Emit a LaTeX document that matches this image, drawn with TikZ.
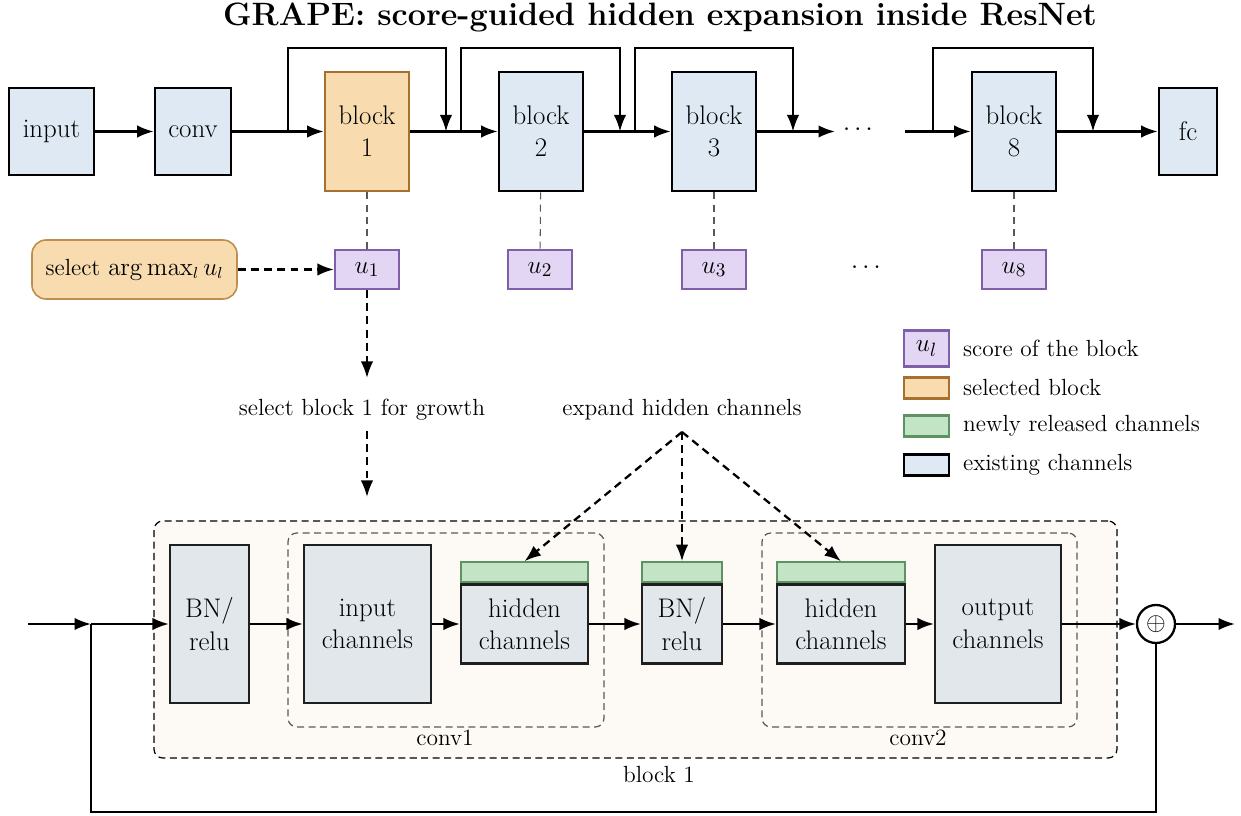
\documentclass[tikz,border=0pt]{standalone}
\usepackage{amsmath}
\usepackage{tikz}
\usetikzlibrary{arrows.meta,positioning}

\definecolor{topfill}{RGB}{222,233,244}
\definecolor{chanfill}{RGB}{226,231,236}
\definecolor{selfill}{RGB}{248,220,176}
\definecolor{seldraw}{RGB}{166,112,46}
\definecolor{pickdraw}{RGB}{190,142,80}
\definecolor{scorefill}{RGB}{226,214,244}
\definecolor{scoredraw}{RGB}{127,95,168}
\definecolor{newfill}{RGB}{195,228,197}
\definecolor{newdraw}{RGB}{94,146,98}
\definecolor{contfill}{RGB}{253,250,245}

\begin{document}
\begin{tikzpicture}[>={Latex[length=3.3mm,width=2.5mm]},
  topbox/.style={draw,fill=topfill,line width=1.5pt,align=center,inner sep=0pt,font=\fontsize{15.3}{18.4}\selectfont},
  selblock/.style={topbox,fill=selfill,draw=seldraw},
  scorebox/.style={draw=scoredraw,fill=scorefill,line width=1.3pt,inner sep=0pt,minimum width=1.28cm,minimum height=0.78cm,font=\fontsize{15.3}{18.4}\selectfont},
  chanbox/.style={draw=black!88,fill=chanfill,line width=1.3pt,align=center,inner sep=0pt,font=\fontsize{15.3}{18.4}\selectfont},
  newbar/.style={draw=newdraw,fill=newfill,line width=1.2pt,inner sep=0pt,minimum height=0.4cm},
  contbox/.style={draw,dashed,dash pattern=on 4pt off 2.5pt,rounded corners=5pt,line width=0.7pt},
  smalltxt/.style={font=\fontsize{13.3}{16}\selectfont,inner sep=1pt},
  flow/.style={->,line width=1.3pt},
  dflow/.style={->,line width=1.3pt,dash pattern=on 4.5pt off 3pt},
  tie/.style={gray!70!black,line width=0.6pt,dash pattern=on 4pt off 3pt}]
  \useasboundingbox (0,0) rectangle (24.82,-16.32);

  % title
  \node[font=\fontsize{18.4}{22}\selectfont\bfseries] (title) at (13.2,-0.34) {GRAPE: score-guided hidden expansion inside ResNet};

  % network
  \node[topbox,minimum width=1.7cm,minimum height=1.74cm] (inp) at (1.03,-2.63) {input};
  \node[topbox,minimum width=1.52cm,minimum height=1.74cm] (conv) at (3.86,-2.63) {conv};
  \node[selblock,minimum width=1.68cm,minimum height=2.38cm] (b1) at (7.34,-2.63) {block\\1};
  \node[topbox,minimum width=1.68cm,minimum height=2.38cm] (b2) at (10.82,-2.63) {block\\2};
  \node[topbox,minimum width=1.68cm,minimum height=2.38cm] (b3) at (14.28,-2.63) {block\\3};
  \node[font=\fontsize{15.3}{18.4}\selectfont] (dtop) at (17.2,-2.6) {$\cdots$};
  \node[topbox,minimum width=1.68cm,minimum height=2.38cm] (b8) at (20.28,-2.63) {block\\8};
  \node[topbox,minimum width=1.16cm,minimum height=1.74cm] (fc) at (23.76,-2.63) {fc};
  \coordinate (d1) at (16.7,-2.63);
  \coordinate (d2) at (18.1,-2.63);

  \draw[flow] (inp) -- (conv);
  \draw[flow] (conv) -- (b1);
  \draw[flow] (b1) -- (b2);
  \draw[flow] (b2) -- (b3);
  \draw[flow] (b3) -- (d1);
  \draw[flow] (d2) -- (b8);
  \draw[flow] (b8) -- (fc);

  % skip connections
  \coordinate (s1) at (5.76,-2.63);  \coordinate (m1) at (8.92,-2.63);
  \coordinate (s2) at (9.22,-2.63);  \coordinate (m2) at (12.4,-2.63);
  \coordinate (s3) at (12.7,-2.63);  \coordinate (m3) at (15.86,-2.63);
  \coordinate (s8) at (18.66,-2.63); \coordinate (m8) at (21.86,-2.63);
  \draw[flow] (s1) -- ++(0,1.67) -| (m1);
  \draw[flow] (s2) -- ++(0,1.67) -| (m2);
  \draw[flow] (s3) -- ++(0,1.67) -| (m3);
  \draw[flow] (s8) -- ++(0,1.67) -| (m8);

  % scores
  \node[scorebox] (u1) at (7.34,-5.39) {$u_1$};
  \node[scorebox] (u2) at (10.8,-5.39) {$u_2$};
  \node[scorebox] (u3) at (14.28,-5.39) {$u_3$};
  \node[font=\fontsize{15.3}{18.4}\selectfont] (dscore) at (17.36,-5.36) {$\cdots$};
  \node[scorebox] (u8) at (20.28,-5.39) {$u_8$};
  \draw[tie] (b1) -- (u1);
  \draw[tie] (b2) -- (u2);
  \draw[tie] (b3) -- (u3);
  \draw[tie] (b8) -- (u8);

  \node[draw=pickdraw,fill=selfill,rounded corners=8pt,line width=0.9pt,minimum width=4.1cm,minimum height=1.18cm,smalltxt] (pick) at (2.69,-5.39) {select $\arg\max_l u_l$};
  \draw[dflow] (pick) -- (u1);

  % growth
  \node[smalltxt] (grow) at (7.24,-8.2) {select block 1 for growth};
  \coordinate (g1) at (7.34,-7.56);
  \coordinate (g2) at (7.34,-8.62);
  \coordinate (g3) at (7.34,-9.94);
  \draw[dflow] (u1) -- (g1);
  \draw[dflow] (g2) -- (g3);

  % legend
  \node[scorebox,minimum width=0.9cm,minimum height=0.72cm] (keyu) at (18.53,-6.97) {$u_l$};
  \node[draw=seldraw,fill=selfill,line width=1.3pt,minimum width=0.9cm,minimum height=0.42cm,inner sep=0pt] (keysel) at (18.53,-7.76) {};
  \node[newbar,minimum width=0.9cm,minimum height=0.42cm] (keynew) at (18.53,-8.52) {};
  \node[draw,fill=topfill,line width=1.5pt,minimum width=0.9cm,minimum height=0.42cm,inner sep=0pt] (keyold) at (18.53,-9.3) {};
  \node[smalltxt,anchor=west] (keyutxt) at (19.22,-6.97) {score of the block};
  \node[smalltxt,anchor=west] (keyseltxt) at (19.22,-7.76) {selected block};
  \node[smalltxt,anchor=west] (keynewtxt) at (19.22,-8.52) {newly released channels};
  \node[smalltxt,anchor=west] (keyoldtxt) at (19.22,-9.3) {existing channels};

  % block 1 in detail
  \node[contbox,fill=contfill,minimum width=19.26cm,minimum height=4.74cm] (blk) at (12.71,-12.79) {};
  \node[smalltxt] (blktxt) at (13.18,-15.5) {block 1};
  \node[contbox,draw=black!65,minimum width=6.32cm,minimum height=3.88cm] (cv1) at (8.92,-12.6) {};
  \node[smalltxt] (cv1txt) at (8.9,-14.76) {conv1};
  \node[contbox,draw=black!65,minimum width=6.3cm,minimum height=3.88cm] (cv2) at (18.39,-12.6) {};
  \node[smalltxt] (cv2txt) at (18.36,-14.76) {conv2};

  \node[chanbox,minimum width=1.58cm,minimum height=3.16cm] (bn1) at (4.19,-12.48) {BN/\\relu};
  \node[chanbox,minimum width=2.54cm,minimum height=3.16cm] (inch) at (7.35,-12.48) {input\\channels};
  \node[chanbox,minimum width=2.54cm,minimum height=1.58cm] (hid1) at (10.49,-12.48) {hidden\\channels};
  \node[newbar,minimum width=2.54cm,above=0pt of hid1] (hid1g) {};
  \node[chanbox,minimum width=1.6cm,minimum height=1.58cm] (bn2) at (13.64,-12.48) {BN/\\relu};
  \node[newbar,minimum width=1.6cm,above=0pt of bn2] (bn2g) {};
  \node[chanbox,minimum width=2.56cm,minimum height=1.58cm] (hid2) at (16.82,-12.48) {hidden\\channels};
  \node[newbar,minimum width=2.56cm,above=0pt of hid2] (hid2g) {};
  \node[chanbox,minimum width=2.52cm,minimum height=3.16cm] (outch) at (19.96,-12.48) {output\\channels};
  \node[circle,draw,line width=1.3pt,fill=white,minimum size=0.76cm,inner sep=0pt,smalltxt] (sum) at (23.12,-12.48) {$\oplus$};

  \coordinate (src) at (0.56,-12.48);
  \coordinate (fork) at (1.82,-12.48);
  \coordinate (dst) at (24.7,-12.48);
  \draw[flow] (src) -- (fork);
  \draw[flow] (fork) -- (bn1);
  \draw[flow] (bn1) -- (inch);
  \draw[flow] (inch) -- (hid1);
  \draw[flow] (hid1) -- (bn2);
  \draw[flow] (bn2) -- (hid2);
  \draw[flow] (hid2) -- (outch);
  \draw[flow] (outch) -- (sum);
  \draw[flow] (sum) -- (dst);
  \draw[line width=1.3pt] (fork) -- ++(0,-3.76) -| (sum.south);

  % expansion
  \node[smalltxt] (expand) at (13.64,-8.2) {expand hidden channels};
  \coordinate (e0) at (13.64,-8.64);
  \draw[dflow] (e0) -- (hid1g.north);
  \draw[dflow] (e0) -- (bn2g.north);
  \draw[dflow] (e0) -- (hid2g.north);
\end{tikzpicture}
\end{document}
